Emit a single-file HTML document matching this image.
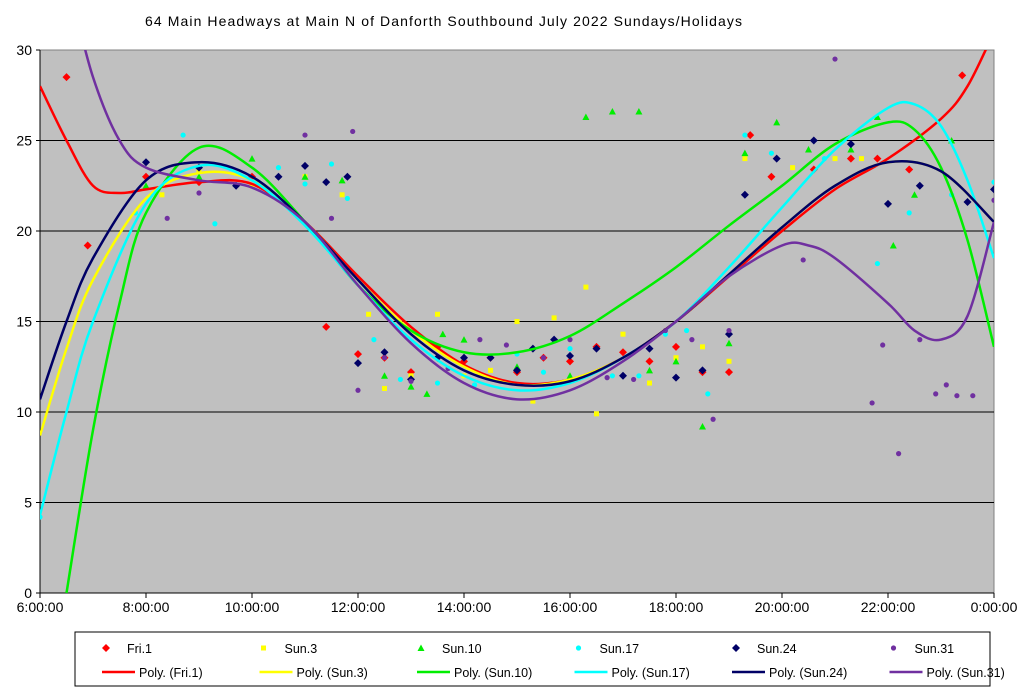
<!DOCTYPE html>
<html><head><meta charset="utf-8"><style>
body{margin:0;background:#fff;font-family:"Liberation Sans",sans-serif;}
svg{display:block}
</style></head><body>
<svg id="chart" width="1024" height="692"></svg>
<script>
const xTickLabels=["6:00:00","8:00:00","10:00:00","12:00:00","14:00:00","16:00:00","18:00:00","20:00:00","22:00:00","0:00:00"];
const yTickLabels=[0,5,10,15,20,25,30];
const seriesNames=["Fri.1","Sun.3","Sun.10","Sun.17","Sun.24","Sun.31"];
const colors=["#ff0000","#ffff00","#00ee00","#00ffff","#000066","#7030a0"];
const scatterFri1=[[6.5,28.5],[6.9,19.2],[8,23],[9,22.7],[10,23],[11.4,14.7],[12,13.2],[12.5,13],[13,12.2],[13.5,13.6],[14,12.8],[14.5,13],[15,12.2],[15.5,13],[16,12.8],[16.5,13.6],[17,13.3],[17.5,12.8],[18,13.6],[18.5,12.2],[19,12.2],[19.4,25.3],[19.8,23],[20.6,23.4],[21.3,24],[21.8,24],[22.4,23.4],[23.4,28.6]];
const scatterSun3=[[8.3,22],[9,23.3],[10,22.5],[11,23],[11.7,22],[12.2,15.4],[12.5,11.3],[13,12],[13.5,15.4],[14,12],[14.5,12.3],[15,15],[15.3,10.6],[15.7,15.2],[16.3,16.9],[16.5,9.9],[17,14.3],[17.5,11.6],[18,13],[18.5,13.6],[19,12.8],[19.3,24],[20.2,23.5],[21,24],[21.5,24]];
const scatterSun10=[[8,22.5],[9,23],[10,24],[11,23],[11.7,22.8],[12.5,12],[13,11.4],[13.3,11],[13.6,14.3],[14,14],[15,12.5],[16,12],[16.3,26.3],[16.8,26.6],[17.3,26.6],[17.5,12.3],[18,12.8],[18.5,9.2],[19,13.8],[19.3,24.3],[19.9,26],[20.5,24.5],[21.3,24.5],[21.8,26.3],[22.1,19.2],[22.5,22],[23.2,25]];
const scatterSun17=[[6,4.2],[7.8,21],[8.7,25.3],[9.3,20.4],[10.5,23.5],[11,22.6],[11.5,23.7],[11.8,21.8],[12.3,14],[12.8,11.8],[13.5,11.6],[14.2,11.5],[15,13.2],[15.5,12.2],[16,13.5],[16.8,12],[17.3,12],[17.8,14.3],[18.2,14.5],[18.6,11],[19.3,25.3],[19.8,24.3],[20.8,24],[21.8,18.2],[22.4,21],[23.2,22],[24,22.7]];
const scatterSun24=[[8,23.8],[9,23.5],[9.7,22.5],[10.5,23],[11,23.6],[11.4,22.7],[11.8,23],[12,12.7],[12.5,13.3],[13,11.8],[13.5,13],[14,13],[14.5,13],[15,12.3],[15.3,13.5],[15.7,14],[16,13.1],[16.5,13.5],[17,12],[17.5,13.5],[18,11.9],[18.5,12.3],[19,14.3],[19.3,22],[19.9,24],[20.6,25],[21.3,24.8],[22,21.5],[22.6,22.5],[23.5,21.6],[24,22.3]];
const scatterSun31=[[8.4,20.7],[9,22.1],[10.2,22.5],[11,25.3],[11.5,20.7],[11.9,25.5],[12,11.2],[12.5,13],[13,11.7],[13.7,12.4],[14.3,14],[14.8,13.7],[15.5,13],[16,14],[16.7,11.9],[17.2,11.8],[17.8,14.5],[18.3,14],[18.7,9.6],[19,14.5],[20.4,18.4],[21,29.5],[21.7,10.5],[21.9,13.7],[22.2,7.7],[22.6,14],[22.9,11],[23.1,11.5],[23.3,10.9],[23.6,10.9],[24,21.7]];
const fitFri1=[[6,28],[6.5,25],[7,22.5],[7.5,22.1],[8,22.3],[9,22.7],[10,22.6],[11,20.5],[12,17.5],[13,14.7],[14,12.6],[15,11.6],[16,11.8],[17,13],[18,15],[19,17.5],[20,20],[21,22.3],[22,24],[23,26.2],[23.5,28],[24,31]];
const fitSun3=[[6,8.7],[6.5,13.5],[7,17.3],[8,21.8],[9,23.2],[10,22.8],[11,20.5],[12,17.3],[13,14.5],[14,12.5],[15,11.5],[16,11.8],[17,13],[18,15],[19,17.6],[20,20.2],[21,22.5],[22,23.8],[23,23.3],[24,20.5]];
const fitSun10=[[6.5,0],[7,9],[7.5,16],[8,21],[9,24.6],[10,23.5],[11,20.5],[12,17],[13,14.5],[14,13.3],[15,13.3],[16,14.2],[17,16],[18,18],[19,20.3],[20,22.5],[21,24.8],[22,26],[22.5,25.6],[23,23.5],[23.5,19.5],[24,13.6]];
const fitSun17=[[6,4.3],[6.5,10],[7,15],[8,21.5],[9,23.6],[10,22.8],[11,20.3],[12,17],[13,14],[14,12],[15,11.2],[16,11.6],[17,13],[18,15],[19,18],[20,21.3],[21,24.5],[22,26.8],[22.5,27],[23,25.8],[23.5,22.8],[24,18.5]];
const fitSun24=[[6,10.7],[6.5,15],[7,18.5],[8,22.8],[9,23.8],[10,23],[11,20.5],[12,17.3],[13,14.3],[14,12.3],[15,11.5],[16,11.7],[17,13],[18,15],[19,17.6],[20,20.2],[21,22.5],[22,23.8],[23,23.3],[24,20.5]];
const fitSun31=[[6.6,33],[7,28.5],[7.5,25],[8,23.5],[9,22.8],[10,22.4],[11,20.5],[12,17],[13,13.8],[14,11.6],[15,10.7],[16,11.2],[17,12.8],[18,15],[19,17.5],[20,19.2],[20.5,19.2],[21,18.5],[22,16],[22.5,14.5],[23,14],[23.5,15.3],[24,20.5]];
const scatters=[scatterFri1,scatterSun3,scatterSun10,scatterSun17,scatterSun24,scatterSun31];
const fits=[fitFri1,fitSun3,fitSun10,fitSun17,fitSun24,fitSun31];

const NS="http://www.w3.org/2000/svg";
const svg=document.getElementById('chart');
const L=40,R=994,T=50,B=593;
const xs=h=>L+(h-6)/18*(R-L);
const ys=v=>B-v/30*(B-T);
function mk(tag,attrs,parent){const e=document.createElementNS(NS,tag);for(const k in attrs)e.setAttribute(k,attrs[k]);(parent||svg).appendChild(e);return e;}

const title=mk('text',{x:145,y:26,'font-size':14,fill:'#000',textLength:597});


title.textContent='64 Main Headways at Main N of Danforth Southbound July 2022  Sundays/Holidays';

const defs=mk('defs',{});
const cp=mk('clipPath',{id:'clip'},defs);
mk('rect',{x:L,y:T,width:R-L,height:B-T},cp);

const plot=mk('rect',{x:L,y:T,width:R-L,height:B-T,fill:'#c0c0c0',stroke:'#808080'});



yTickLabels.forEach(v=>{
  if(v>0&&v<30){const g=mk('line',{x1:L,x2:R,y1:ys(v),y2:ys(v),stroke:'#000','stroke-width':1});
  
  }
  mk('line',{x1:L-4,x2:L,y1:ys(v),y2:ys(v),stroke:'#000'});
  const t=mk('text',{x:L-8,y:ys(v)+5,'font-size':14,'text-anchor':'end'});
  
  
  t.textContent=v;
});
mk('line',{x1:L,x2:L,y1:T,y2:B,stroke:'#000'});
mk('line',{x1:L,x2:R,y1:B,y2:B,stroke:'#000'});
xTickLabels.forEach((s,i)=>{
  const x=xs(6+i*2);
  mk('line',{x1:x,x2:x,y1:B,y2:B+5,stroke:'#000'});
  const t=mk('text',{x:x,y:B+19,'font-size':14,'text-anchor':'middle'});
  
  
  t.textContent=s;
});

function marker(g,i,x,y){
  if(i===0||i===4)return mk('polygon',{points:`${x},${y-4} ${x+4},${y} ${x},${y+4} ${x-4},${y}`,fill:colors[i]},g);
  if(i===1)return mk('rect',{x:x-2.5,y:y-2.5,width:5,height:5,fill:colors[i]},g);
  if(i===2)return mk('polygon',{points:`${x},${y-3.5} ${x+3.5},${y+3} ${x-3.5},${y+3}`,fill:colors[i]},g);
  return mk('circle',{cx:x,cy:y,r:2.6,fill:colors[i]},g);
}
function smoothPath(pts){
  const p=pts.map(a=>[xs(a[0]),ys(a[1])]);
  let d=`M${p[0][0]},${p[0][1]}`;
  for(let i=0;i<p.length-1;i++){
    const p0=p[i-1]||p[i],p1=p[i],p2=p[i+1],p3=p[i+2]||p2;
    const c1=[p1[0]+(p2[0]-p0[0])/6,p1[1]+(p2[1]-p0[1])/6];
    const c2=[p2[0]-(p3[0]-p1[0])/6,p2[1]-(p3[1]-p1[1])/6];
    d+=` C${c1[0]},${c1[1]} ${c2[0]},${c2[1]} ${p2[0]},${p2[1]}`;
  }
  return d;
}
scatters.forEach((pts,i)=>{
  const g=mk('g',{'clip-path':'url(#clip)'});
  
  
  pts.forEach(a=>{const m=marker(g,i,xs(a[0]),ys(a[1]));
    
    });
});
fits.forEach((pts,i)=>{
  const p=mk('path',{d:smoothPath(pts),fill:'none',stroke:colors[i],'stroke-width':2.5,'clip-path':'url(#clip)'});
  
  
});

const lg=mk('g',{});


mk('rect',{x:75,y:632,width:915,height:54,fill:'#fff',stroke:'#000'},lg);
seriesNames.forEach((n,i)=>{
  const cx=102+i*157.5;
  const e1=mk('g',{},lg);
  
  
  marker(e1,i,cx+4,648);
  const t1=mk('text',{x:cx+25,y:653,'font-size':12.5},e1);t1.textContent=n;
  const e2=mk('g',{},lg);
  
  
  mk('line',{x1:cx,x2:cx+33,y1:672,y2:672,stroke:colors[i],'stroke-width':2.5},e2);
  const t2=mk('text',{x:cx+37,y:677,'font-size':12.5},e2);t2.textContent='Poly. ('+n+')';
});
</script>
</body></html>
